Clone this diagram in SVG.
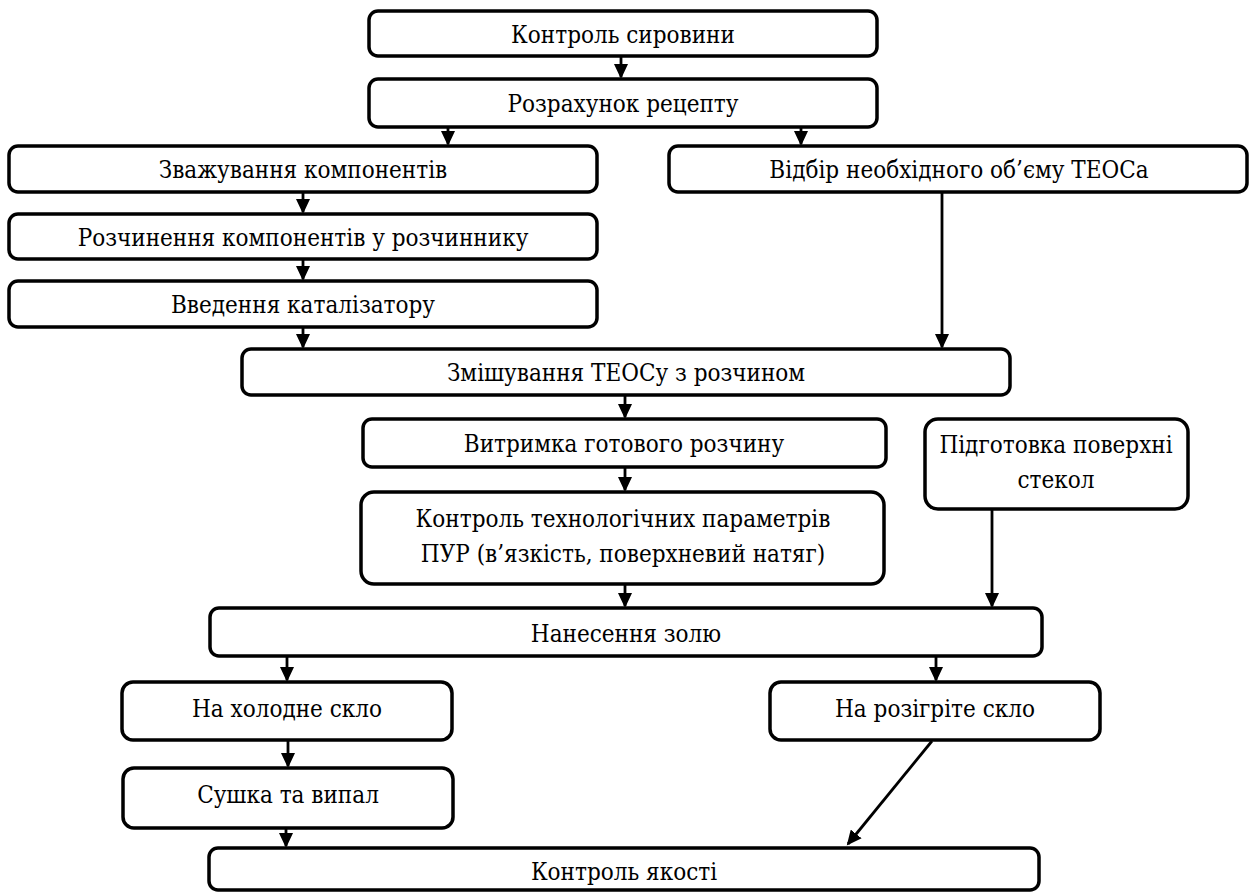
<svg xmlns="http://www.w3.org/2000/svg" width="1251" height="893" viewBox="0 0 1251 893">
<style>
.box{fill:#fff;stroke:#000;stroke-width:3.5}
.lbl{font-family:'DejaVu Serif Condensed','DejaVu Serif',serif;font-size:24px;fill:#000;text-anchor:middle}
.arr{stroke:#000;stroke-width:2.8;fill:none;marker-end:url(#ah)}
</style>
<defs>
<marker id="ah" markerUnits="userSpaceOnUse" markerWidth="16" markerHeight="14" viewBox="0 0 16 14" refX="13" refY="7" orient="auto">
<path d="M0,0 L15,7 L0,14 z" fill="#000"/>
</marker>
</defs>
<rect width="1251" height="893" fill="#fff"/>
<g id="connectors">
<line class="arr" x1="621" y1="56" x2="621" y2="77"/>
<line class="arr" x1="448" y1="127" x2="448" y2="144"/>
<line class="arr" x1="801" y1="127" x2="801" y2="144"/>
<line class="arr" x1="303" y1="192" x2="303" y2="212"/>
<line class="arr" x1="303" y1="259" x2="303" y2="279"/>
<line class="arr" x1="303" y1="327" x2="303" y2="347"/>
<line class="arr" x1="942" y1="192" x2="942" y2="347"/>
<line class="arr" x1="625" y1="395" x2="625" y2="417"/>
<line class="arr" x1="625" y1="467" x2="625" y2="490"/>
<line class="arr" x1="625" y1="584" x2="625" y2="606"/>
<line class="arr" x1="992" y1="509" x2="992" y2="606"/>
<line class="arr" x1="287" y1="656" x2="287" y2="680"/>
<line class="arr" x1="936" y1="656" x2="936" y2="680"/>
<line class="arr" x1="288" y1="740" x2="288" y2="766"/>
<line class="arr" x1="286" y1="828" x2="286" y2="846"/>
<line class="arr" x1="932" y1="741" x2="848" y2="844"/>
</g>
<g id="n1"><rect class="box" x="369" y="11" width="508" height="45" rx="9"/><text class="lbl" x="623" y="43">Контроль сировини</text></g>
<g id="n2"><rect class="box" x="369" y="79" width="508" height="48" rx="9"/><text class="lbl" x="623" y="112">Розрахунок рецепту</text></g>
<g id="n3"><rect class="box" x="9" y="146" width="588" height="46" rx="9"/><text class="lbl" x="303" y="178">Зважування компонентів</text></g>
<g id="n4"><rect class="box" x="669" y="146" width="578" height="46" rx="9"/><text class="lbl" x="959" y="178">Відбір необхідного об’єму ТЕОСа</text></g>
<g id="n5"><rect class="box" x="9" y="214" width="588" height="45" rx="9"/><text class="lbl" x="303" y="246">Розчинення компонентів у розчиннику</text></g>
<g id="n6"><rect class="box" x="9" y="281" width="588" height="46" rx="9"/><text class="lbl" x="303" y="313">Введення каталізатору</text></g>
<g id="n7"><rect class="box" x="242" y="349" width="768" height="46" rx="9"/><text class="lbl" x="626" y="381">Змішування ТЕОСу з розчином</text></g>
<g id="n8"><rect class="box" x="363" y="419" width="523" height="48" rx="9"/><text class="lbl" x="624" y="452">Витримка готового розчину</text></g>
<g id="n9"><rect class="box" x="925" y="419" width="263" height="90" rx="13"/><text class="lbl" x="1056" y="453">Підготовка поверхні</text><text class="lbl" x="1056" y="488">стекол</text></g>
<g id="n10"><rect class="box" x="361" y="492" width="523" height="92" rx="13"/><text class="lbl" x="623" y="527">Контроль технологічних параметрів</text><text class="lbl" x="623" y="562">ПУР (в’язкість, поверхневий натяг)</text></g>
<g id="n11"><rect class="box" x="210" y="608" width="832" height="48" rx="9"/><text class="lbl" x="626" y="642">Нанесення золю</text></g>
<g id="n12"><rect class="box" x="122" y="682" width="330" height="58" rx="11"/><text class="lbl" x="287" y="717">На холодне скло</text></g>
<g id="n13"><rect class="box" x="770" y="682" width="330" height="58" rx="11"/><text class="lbl" x="935" y="717">На розігріте скло</text></g>
<g id="n14"><rect class="box" x="123" y="768" width="330" height="60" rx="11"/><text class="lbl" x="288" y="803">Сушка та випал</text></g>
<g id="n15"><rect class="box" x="209" y="848" width="830" height="42" rx="9"/><text class="lbl" x="624" y="880">Контроль якості</text></g>
</svg>
